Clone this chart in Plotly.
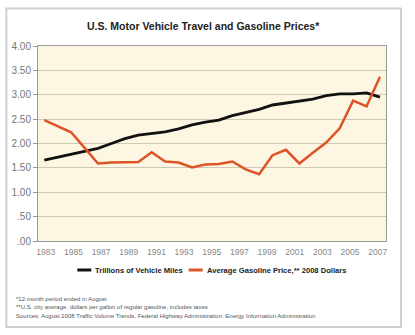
import plotly.graph_objects as go

years = list(range(1983, 2009))
vehicle_miles = [1.66, 1.72, 1.78, 1.83, 1.90, 2.00, 2.10, 2.17, 2.20, 2.24, 2.30, 2.38, 2.44,
                 2.48, 2.57, 2.63, 2.70, 2.79, 2.83, 2.87, 2.91, 2.98, 3.02, 3.02, 3.04, 2.95]
gas_price = [2.48, 2.36, 2.23, 1.91, 1.59, 1.61, 1.62, 1.62, 1.82, 1.63, 1.61, 1.51, 1.57,
             1.58, 1.63, 1.47, 1.37, 1.76, 1.87, 1.59, 1.81, 2.02, 2.31, 2.88, 2.76, 3.37]
tick_labels = [str(y) for y in range(1983, 2008, 2)]
y_ticks = [0, 0.5, 1.0, 1.5, 2.0, 2.5, 3.0, 3.5, 4.0]
y_tick_text = [".00", ".50", "1.00", "1.50", "2.00", "2.50", "3.00", "3.50", "4.00"]

W, H = 415, 335
L, R, T, B = 37.7, 386, 46, 241  # plot area in px

def px(x):
    return (x - L) / (R - L)

def py(y):
    return (B - y) / (B - T)

FONT = "Liberation Sans Narrow, Arial Narrow, Liberation Sans, Arial"
ORANGE = "#dd5426"

fig = go.Figure()
fig.add_trace(go.Scatter(x=years, y=vehicle_miles, mode="lines", name="Trillions of Vehicle Miles",
                         line=dict(color="#111111", width=2.8)))
fig.add_trace(go.Scatter(x=years, y=gas_price, mode="lines", name="Average Gasoline Price,** 2008 Dollars",
                         line=dict(color=ORANGE, width=2.5)))

# evenly spread labels across the data span, as in the original
first, step = 1983.11, 2.06
tickvals = [first + i * step for i in range(len(tick_labels))]

fig.update_layout(
    width=W, height=H,
    margin=dict(l=L, r=W - R, t=T, b=H - B),
    paper_bgcolor="white",
    plot_bgcolor="#fcf6e3",
    showlegend=False,
    font=dict(family=FONT, color="#666"),
    xaxis=dict(range=[1982.53, 2008.45], tickvals=tickvals, ticktext=tick_labels,
               showgrid=False, zeroline=False, showline=True, linecolor="#9a9a9a", linewidth=1,
               mirror=True, ticks="", tickfont=dict(size=8.5, color="#888"), ticklabelstandoff=3),
    yaxis=dict(range=[0, 4.0], tickvals=y_ticks, ticktext=y_tick_text,
               showgrid=True, gridcolor="#cfc8b4", gridwidth=1, zeroline=False,
               showline=True, linecolor="#9a9a9a", linewidth=1, mirror=True,
               ticks="outside", ticklen=4, tickcolor="#9a9a9a",
               tickfont=dict(size=10, color="#777")),
)

shapes = []
# outer frame
shapes.append(dict(type="rect", xref="paper", yref="paper",
                   x0=px(6), x1=px(401), y0=py(327), y1=py(8.5),
                   line=dict(color="#cfcfcf", width=2), fillcolor="rgba(0,0,0,0)", layer="below"))
# manual legend samples
shapes.append(dict(type="line", xref="paper", yref="paper", x0=px(77), x1=px(91), y0=py(270), y1=py(270),
                   line=dict(color="#111111", width=3)))
shapes.append(dict(type="line", xref="paper", yref="paper", x0=px(188.5), x1=px(202.5), y0=py(270), y1=py(270),
                   line=dict(color=ORANGE, width=3)))
fig.update_layout(shapes=shapes)

ann = []
ann.append(dict(text="<b>U.S. Motor Vehicle Travel and Gasoline Prices*</b>", xref="paper", yref="paper",
                x=px(203), y=py(26.5), xanchor="center", yanchor="middle", showarrow=False,
                font=dict(family=FONT, size=10.5, color="#222")))
ann.append(dict(text="<b>Trillions of Vehicle Miles</b>", xref="paper", yref="paper",
                x=px(93), y=py(270), xanchor="left", yanchor="middle", showarrow=False,
                font=dict(family=FONT, size=7.6, color="#222")))
ann.append(dict(text="<b>Average Gasoline Price,** 2008 Dollars</b>", xref="paper", yref="paper",
                x=px(205), y=py(270), xanchor="left", yanchor="middle", showarrow=False,
                font=dict(family=FONT, size=7.6, color="#222")))
notes = ["*12-month period ended in August",
         "**U.S. city average, dollars per gallon of regular gasoline, includes taxes",
         "Sources: August 2008 Traffic Volume Trends, Federal Highway Administration; Energy Information Administration"]
for txt, yy in zip(notes, [298.5, 307, 315.5]):
    ann.append(dict(text=txt, xref="paper", yref="paper", x=px(14), y=py(yy),
                    xanchor="left", yanchor="middle", showarrow=False,
                    font=dict(family=FONT, size=6, color="#555")))
fig.update_layout(annotations=ann)

fig.write_html("out.html")
